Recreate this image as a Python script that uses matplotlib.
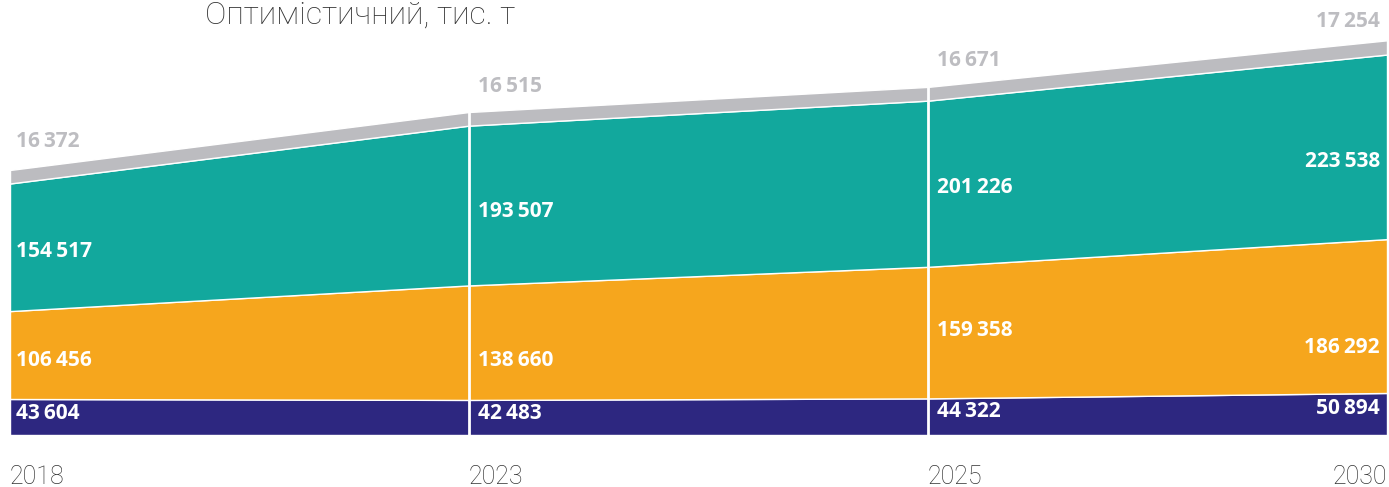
import numpy as np
import matplotlib.pyplot as plt

years = ["2018", "2023", "2025", "2030"]
navy = [43604, 42483, 44322, 50894]
orange = [106456, 138660, 159358, 186292]
teal = [154517, 193507, 201226, 223538]
gray = [16372, 16515, 16671, 17254]

colors = ["#2d2780", "#f6a61d", "#12a89d", "#bcbcc0"]
label_colors = ["white", "white", "white", "#bdbdc1"]

# label heights (data units)
label_y = [
    [26600, 26600, 29000, 31500],
    [90800, 90800, 127100, 106500],
    [222800, 271200, 300200, 331700],
    [355900, 422500, 454000, 501200],
]


def fmt(v):
    s = f"{v:,}"
    return s.replace(",", "\u2009")


fig = plt.figure(figsize=(13.89, 4.87), dpi=100)
ax = fig.add_axes([10 / 1389, 52 / 487, 1377 / 1389, 435 / 487])

x = np.arange(len(years))
series = [navy, orange, teal, gray]
ax.stackplot(x, *series, colors=colors, edgecolor="white", linewidth=1)

tops = np.sum(series, axis=0)
for i in [1, 2]:
    ax.plot([x[i], x[i]], [0, tops[i]], color="white", lw=2)

for s, vals in enumerate(series):
    for i, v in enumerate(vals):
        if i == 0:
            off, ha = 6, "left"
        elif i == len(years) - 1:
            off, ha = -7, "right"
        else:
            off, ha = 9, "left"
        ax.annotate(fmt(v), (x[i], label_y[s][i]), xytext=(off * 0.72, 0),
                    textcoords="offset points", ha=ha, va="center",
                    color=label_colors[s], fontsize=15, fontweight="bold",
                    family=["Open Sans", "DejaVu Sans"])

# year labels under the axis
for i, y in enumerate(years):
    ha = "right" if i == len(years) - 1 else "left"
    ax.annotate(y, (x[i], 0), xytext=(0, -35.5), textcoords="offset points",
                ha=ha, va="baseline", fontsize=18, color="#333333",
                family="Roboto", fontweight="light", annotation_clip=False)

fig.text(205 / 1389, 1 - 24 / 487, "Оптимістичний, тис. т", ha="left", va="baseline",
         fontsize=23, color="#333333", family="Roboto", fontweight="light")

ax.set_xlim(0, len(years) - 1)
ax.set_ylim(0, 526800)
ax.axis("off")

fig.savefig("out.png", dpi=100)
